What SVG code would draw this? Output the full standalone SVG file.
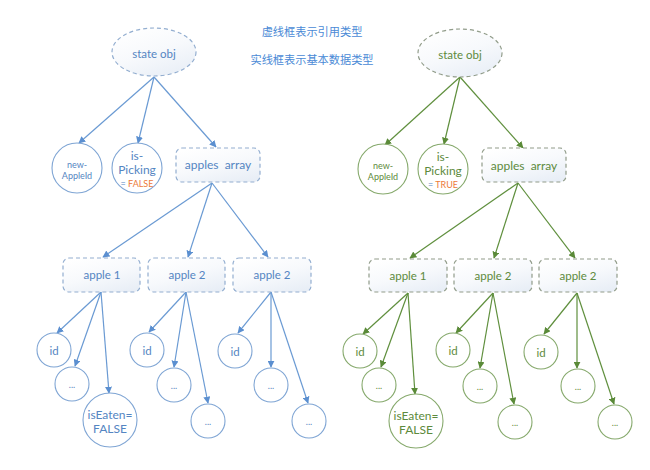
<svg xmlns="http://www.w3.org/2000/svg" width="650" height="470" viewBox="0 0 650 470">
<defs>
<linearGradient id="gf" x1="0.2" y1="0" x2="0.8" y2="1">
<stop offset="0" stop-color="#ffffff"/>
<stop offset="0.5" stop-color="#f7f9fc"/>
<stop offset="1" stop-color="#e8eef6"/>
</linearGradient>
<marker id="ab" viewBox="0 0 10 10" refX="9" refY="5" markerWidth="7" markerHeight="7" markerUnits="userSpaceOnUse" orient="auto">
<path d="M0,0 L10,5 L0,10 z" fill="#5b8fd0"/>
</marker>
<marker id="ag" viewBox="0 0 10 10" refX="9" refY="5" markerWidth="7" markerHeight="7" markerUnits="userSpaceOnUse" orient="auto">
<path d="M0,0 L10,5 L0,10 z" fill="#5a8a38"/>
</marker>
</defs>
<style>
text{font-family:Lato,"Open Sans","Liberation Sans",sans-serif;text-anchor:middle;dominant-baseline:central;white-space:pre}
.b .ref{fill:url(#gf);stroke:#93aed0;stroke-width:1.2;stroke-dasharray:4,3}
.g .ref{fill:url(#gf);stroke:#919c8a;stroke-width:1.2;stroke-dasharray:4,3}
.b .val{fill:#ffffff;stroke:#7fa5d4;stroke-width:1.1}
.g .val{fill:#ffffff;stroke:#86a96c;stroke-width:1.1}
.b text{fill:#5485c2}
.g text{fill:#5d8a3c}
.lb line{stroke:#6a9ad3;stroke-width:1.2;marker-end:url(#ab)}
.lg line{stroke:#5f8f3d;stroke-width:1.2;marker-end:url(#ag)}
.t{font-size:11.5px}
.s{font-size:9px}
.m{font-size:12px}
.o{fill:#ec7a3a !important}
.legend{fill:#4a8ad6;font-family:"Noto Sans CJK SC",sans-serif;font-size:11.2px}
</style>
<text class="legend" x="312" y="31">虚线框表示引用类型</text>
<text class="legend" x="312" y="59">实线框表示基本数据类型</text>

<g id="connectors">
<g class="lb">
<line x1="154" y1="77" x2="79" y2="143"/>
<line x1="154" y1="77" x2="138" y2="143"/>
<line x1="154" y1="77" x2="216" y2="147"/>
<line x1="212" y1="183" x2="103" y2="257"/>
<line x1="212" y1="183" x2="188" y2="257"/>
<line x1="212" y1="183" x2="268" y2="257"/>
<line x1="101" y1="292" x2="57" y2="333"/>
<line x1="101" y1="292" x2="75" y2="366"/>
<line x1="101" y1="292" x2="109" y2="393"/>
<line x1="186" y1="292" x2="149" y2="332"/>
<line x1="186" y1="292" x2="174" y2="367"/>
<line x1="186" y1="292" x2="208" y2="403"/>
<line x1="271" y1="292" x2="238" y2="333"/>
<line x1="271" y1="292" x2="271" y2="367"/>
<line x1="271" y1="292" x2="308" y2="403"/>
</g>
<g class="lg">
<line x1="460" y1="77" x2="385" y2="145"/>
<line x1="460" y1="77" x2="444" y2="144"/>
<line x1="460" y1="77" x2="523" y2="148"/>
<line x1="518" y1="183" x2="410" y2="258"/>
<line x1="518" y1="183" x2="494" y2="258"/>
<line x1="518" y1="183" x2="575" y2="258"/>
<line x1="408" y1="293" x2="363" y2="334"/>
<line x1="408" y1="293" x2="381" y2="367"/>
<line x1="408" y1="293" x2="415" y2="394"/>
<line x1="493" y1="293" x2="456" y2="333"/>
<line x1="493" y1="293" x2="480" y2="368"/>
<line x1="493" y1="293" x2="514" y2="404"/>
<line x1="577" y1="293" x2="544" y2="334"/>
<line x1="577" y1="293" x2="577" y2="368"/>
<line x1="577" y1="293" x2="614" y2="404"/>
</g>
</g>

<g class="b">
<g id="l-state"><ellipse class="ref" cx="154" cy="52" rx="42" ry="24"/><text class="t" x="154" y="53">state obj</text></g>
<g id="l-newAppleId"><circle class="val" cx="77" cy="168" r="25"/><text class="s" x="77" y="164">new-</text><text class="s" x="77" y="175">AppleId</text></g>
<g id="l-isPicking"><circle class="val" cx="137" cy="168" r="25"/><text class="m" x="137" y="155">is-</text><text class="m" x="137" y="169">Picking</text><text class="s" x="137" y="183">= <tspan class="o">FALSE</tspan></text></g>
<g id="l-apples"><rect class="ref" x="176" y="148" width="84" height="34" rx="6"/><text class="m" x="218" y="164" xml:space="preserve">apples  array</text></g>
<g id="l-apple1"><rect class="ref" x="63" y="258" width="77" height="34" rx="6"/><text class="t" x="102" y="274">apple 1</text></g>
<g id="l-apple2a"><rect class="ref" x="148" y="258" width="77" height="34" rx="6"/><text class="t" x="187" y="274">apple 2</text></g>
<g id="l-apple2b"><rect class="ref" x="233" y="258" width="78" height="34" rx="6"/><text class="t" x="272" y="274">apple 2</text></g>
<g id="l-id1"><circle class="val" cx="54" cy="350" r="17"/><text class="t" x="54" y="350">id</text></g>
<g id="l-dots1"><circle class="val" cx="72" cy="384" r="17"/><text class="s" x="72" y="384">...</text></g>
<g id="l-isEaten"><circle class="val" cx="110" cy="420" r="27"/><text class="m" x="110" y="414">isEaten=</text><text class="m" x="110" y="428">FALSE</text></g>
<g id="l-id2"><circle class="val" cx="147" cy="350" r="17"/><text class="t" x="147" y="350">id</text></g>
<g id="l-dots2"><circle class="val" cx="174" cy="385" r="17"/><text class="s" x="174" y="385">...</text></g>
<g id="l-dots3"><circle class="val" cx="208" cy="421" r="17"/><text class="s" x="208" y="421">...</text></g>
<g id="l-id3"><circle class="val" cx="235" cy="351" r="17"/><text class="t" x="235" y="351">id</text></g>
<g id="l-dots4"><circle class="val" cx="271" cy="385" r="17"/><text class="s" x="271" y="385">...</text></g>
<g id="l-dots5"><circle class="val" cx="309" cy="421" r="17"/><text class="s" x="309" y="421">...</text></g>
</g>

<g class="g">
<g id="r-state"><ellipse class="ref" cx="460" cy="53" rx="42" ry="24"/><text class="t" x="460" y="54">state obj</text></g>
<g id="r-newAppleId"><circle class="val" cx="383" cy="169" r="25"/><text class="s" x="383" y="165">new-</text><text class="s" x="383" y="176">AppleId</text></g>
<g id="r-isPicking"><circle class="val" cx="443" cy="169" r="25"/><text class="m" x="443" y="156">is-</text><text class="m" x="443" y="170">Picking</text><text class="s" x="443" y="184"><tspan fill="#5485c2">= </tspan><tspan class="o">TRUE</tspan></text></g>
<g id="r-apples"><rect class="ref" x="482" y="148" width="84" height="34" rx="6"/><text class="m" x="524" y="165" xml:space="preserve">apples  array</text></g>
<g id="r-apple1"><rect class="ref" x="369" y="259" width="78" height="33" rx="6"/><text class="t" x="408" y="275">apple 1</text></g>
<g id="r-apple2a"><rect class="ref" x="454" y="259" width="78" height="33" rx="6"/><text class="t" x="493" y="275">apple 2</text></g>
<g id="r-apple2b"><rect class="ref" x="539" y="259" width="78" height="33" rx="6"/><text class="t" x="578" y="275">apple 2</text></g>
<g id="r-id1"><circle class="val" cx="360" cy="351" r="17"/><text class="t" x="360" y="351">id</text></g>
<g id="r-dots1"><circle class="val" cx="379" cy="385" r="17"/><text class="s" x="379" y="385">...</text></g>
<g id="r-isEaten"><circle class="val" cx="416" cy="421" r="27"/><text class="m" x="416" y="415">isEaten=</text><text class="m" x="416" y="429">FALSE</text></g>
<g id="r-id2"><circle class="val" cx="453" cy="350" r="17"/><text class="t" x="453" y="350">id</text></g>
<g id="r-dots2"><circle class="val" cx="480" cy="386" r="17"/><text class="s" x="480" y="386">...</text></g>
<g id="r-dots3"><circle class="val" cx="515" cy="422" r="17"/><text class="s" x="515" y="422">...</text></g>
<g id="r-id3"><circle class="val" cx="541" cy="352" r="17"/><text class="t" x="541" y="352">id</text></g>
<g id="r-dots4"><circle class="val" cx="578" cy="386" r="17"/><text class="s" x="578" y="386">...</text></g>
<g id="r-dots5"><circle class="val" cx="615" cy="422" r="17"/><text class="s" x="615" y="422">...</text></g>
</g>
</svg>
